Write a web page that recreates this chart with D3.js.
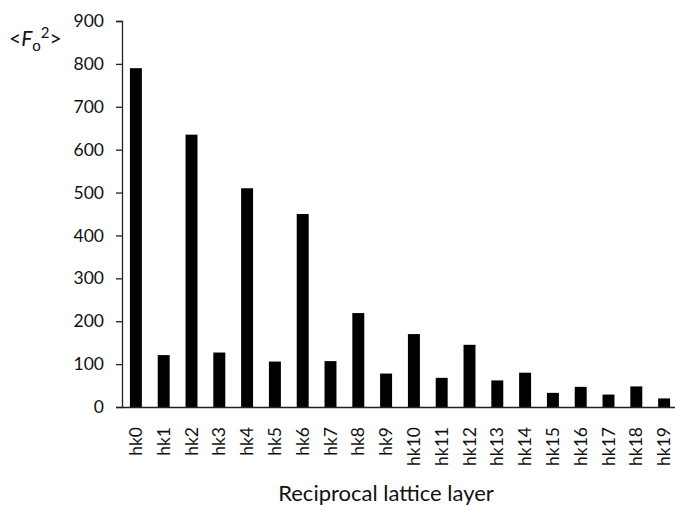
<!DOCTYPE html>
<html>
<head>
<meta charset="utf-8">
<script src="https://cdn.jsdelivr.net/npm/d3@7"></script>
<style>
  html, body { margin: 0; padding: 0; background: #fff; }
  svg { display: block; }
  text { font-family: Lato, "Open Sans", sans-serif; fill: #111; }
</style>
</head>
<body>
<svg id="chart" width="675" height="505"></svg>
<script>
const categories = ["hk0","hk1","hk2","hk3","hk4","hk5","hk6","hk7","hk8","hk9",
                    "hk10","hk11","hk12","hk13","hk14","hk15","hk16","hk17","hk18","hk19"];
const values = [790, 121, 635, 127, 510, 106, 450, 107, 219, 78,
                170, 68, 145, 62, 80, 33, 47, 29, 48, 20];
const yTicks = [0, 100, 200, 300, 400, 500, 600, 700, 800, 900];
const xTitle = "Reciprocal lattice layer";

const svg = d3.select("#chart");
const mLeft = 122, mRight = 678, mTop = 21, mBottom = 407;

const x = d3.scaleBand().domain(categories).range([mLeft, mRight]).paddingInner(0.57).paddingOuter(0.285);
const y = d3.scaleLinear().domain([0, 900]).range([mBottom, mTop]);

// bars
svg.append("g").selectAll("rect").data(values).join("rect")
  .attr("x", (d, i) => x(categories[i]))
  .attr("y", d => y(d))
  .attr("width", x.bandwidth())
  .attr("height", d => y(0) - y(d))
  .attr("fill", "#000");

// y axis
const yAxis = svg.append("g").attr("transform", `translate(${mLeft},0)`)
  .call(d3.axisLeft(y).tickValues(yTicks).tickSize(6).tickPadding(12).tickFormat(d3.format("d")));
yAxis.select(".domain").attr("stroke", "#222").attr("stroke-width", 1.3);
yAxis.selectAll(".tick line").attr("stroke", "#222").attr("stroke-width", 1.3);
yAxis.selectAll("text").style("font-size", "17.5px").style("font-family", "Lato, 'Open Sans', sans-serif").attr("fill", "#111");

// x axis
const xAxis = svg.append("g").attr("transform", `translate(0,${mBottom})`)
  .call(d3.axisBottom(x).tickSize(0).tickPadding(0));
xAxis.select(".domain").attr("stroke", "#222").attr("stroke-width", 1.3);
xAxis.selectAll(".tick text")
  .style("font-size", "17.5px").style("font-family", "Lato, 'Open Sans', sans-serif").attr("fill", "#111")
  .attr("transform", "rotate(-90)")
  .attr("text-anchor", "end")
  .attr("x", -20)
  .attr("y", 0)
  .attr("dy", "0.35em");

// x title
svg.append("text")
  .attr("x", 386).attr("y", 501)
  .attr("text-anchor", "middle")
  .style("font-size", "22px")
  .text(xTitle);

// y label <F_o^2>
const yl = svg.append("text").attr("x", 9).attr("y", 46).style("font-size", "21px");
yl.append("tspan").text("<");
yl.append("tspan").style("font-style", "italic").text("F");
yl.append("tspan").attr("dy", 5).style("font-size", "15px").text("o");
yl.append("tspan").attr("dy", -13).style("font-size", "15px").text("2");
yl.append("tspan").attr("dy", 8).text(">");
</script>
</body>
</html>
